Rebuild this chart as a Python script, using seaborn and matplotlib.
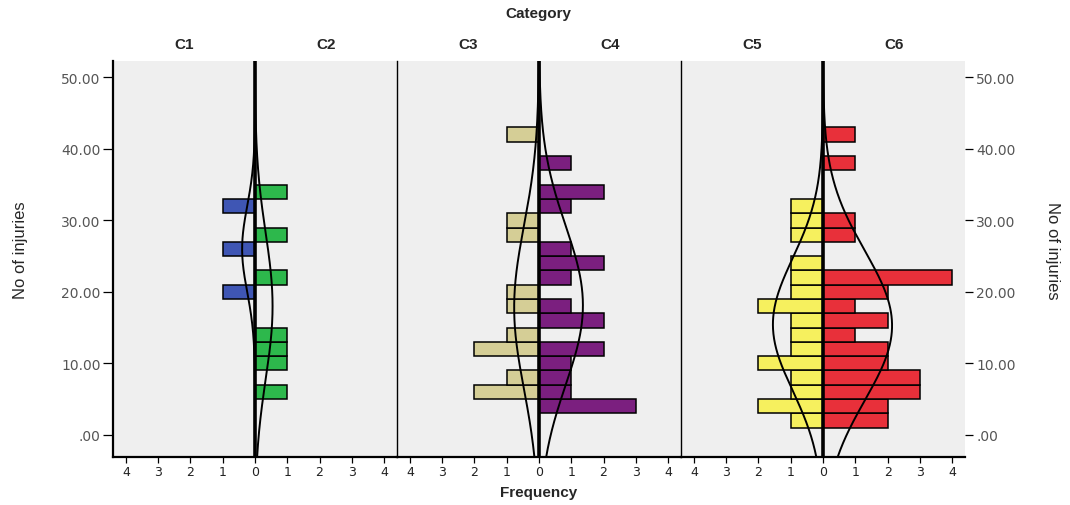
import numpy as np
import pandas as pd
import matplotlib
matplotlib.use("Agg")
import matplotlib.pyplot as plt
import seaborn as sns

# ---------------- data ----------------
bin_start = 1
bin_width = 2
n_bins = 21
categories = ["C1", "C2", "C3", "C4", "C5", "C6"]

# frequencies per bin: bins [1,3), [3,5), ... [41,43)
freq_c1 = [0, 0, 0, 0, 0, 0, 0, 0, 0, 1, 0, 0, 1, 0, 0, 1, 0, 0, 0, 0, 0]
freq_c2 = [0, 0, 1, 0, 1, 1, 1, 0, 0, 0, 1, 0, 0, 1, 0, 0, 1, 0, 0, 0, 0]
freq_c3 = [0, 0, 2, 1, 0, 2, 1, 0, 1, 1, 0, 0, 0, 1, 1, 0, 0, 0, 0, 0, 1]
freq_c4 = [0, 3, 1, 1, 1, 2, 0, 2, 1, 0, 1, 2, 1, 0, 0, 1, 2, 0, 1, 0, 0]
freq_c5 = [1, 2, 1, 1, 2, 1, 1, 1, 2, 1, 1, 1, 0, 1, 1, 1, 0, 0, 0, 0, 0]
freq_c6 = [2, 2, 3, 3, 2, 2, 1, 2, 1, 2, 4, 0, 0, 1, 1, 0, 0, 0, 1, 0, 1]

colors = ["#3F56B4", "#2DB84C", "#D5CE96", "#7B1F7F", "#F6F05E", "#E8303A"]

x_ticks = [-4, -3, -2, -1, 0, 1, 2, 3, 4]
y_ticks = [0, 10, 20, 30, 40, 50]
y_tick_labels = [".00", "10.00", "20.00", "30.00", "40.00", "50.00"]

freqs = [freq_c1, freq_c2, freq_c3, freq_c4, freq_c5, freq_c6]

# ---------------- plot ----------------
sns.set_theme(style="white")
plt.rcParams["font.family"] = ["Liberation Sans", "DejaVu Sans"]

fig, axes = plt.subplots(1, 3, figsize=(10.7, 5.06), dpi=100, sharey=True)
fig.subplots_adjust(left=0.1056, right=0.9019, bottom=0.0949, top=0.8775, wspace=0)

edges = bin_start + bin_width * np.arange(n_bins + 1)
centers = edges[:-1] + bin_width / 2
ylo, yhi = -3.1, 52.3
ygrid = np.linspace(ylo, yhi, 400)

for p, ax in enumerate(axes):
    ax.set_facecolor("#EFEFEF")
    for side in (0, 1):
        k = 2 * p + side
        f = np.array(freqs[k], dtype=float)
        sign = -1 if side == 0 else 1
        df = pd.DataFrame({"value": centers, "w": sign * f})
        sns.histplot(data=df, y="value", weights="w", bins=[float(e) for e in edges],
                     color=colors[k], edgecolor="black", linewidth=1.1, alpha=1, ax=ax)
        # normal curve fitted to the data
        n = f.sum()
        mu = np.sum(f * centers) / n
        sd = np.sqrt(np.sum(f * (centers - mu) ** 2) / (n - 1))
        dens = n * bin_width * np.exp(-0.5 * ((ygrid - mu) / sd) ** 2) / (sd * np.sqrt(2 * np.pi))
        ax.plot(sign * dens, ygrid, color="black", lw=1.4)
    ax.axvline(0, color="black", lw=2.6, zorder=5)
    ax.set_xlim(-4.4, 4.4)
    ax.set_ylim(ylo, yhi)
    ax.set_xlabel("")
    ax.set_ylabel("")
    ax.set_xticks(x_ticks)
    ax.set_xticklabels([str(abs(t)) for t in x_ticks], fontsize=9, color="#222222",
                       family=["DejaVu Sans"])
    ax.tick_params(axis="x", direction="out", length=4, width=0.9, color="black", pad=2, bottom=True)
    for s in ("top", "right"):
        ax.spines[s].set_visible(False)
    ax.spines["bottom"].set_color("black")
    ax.spines["bottom"].set_linewidth(1.6)
    ax.spines["left"].set_color("black")
    ax.spines["left"].set_linewidth(1.6 if p == 0 else 1.0)
    ax.text(-2.2, 1.043, categories[2 * p], transform=ax.get_xaxis_transform(),
            ha="center", va="center", fontsize=11, fontweight="bold")
    ax.text(2.2, 1.043, categories[2 * p + 1], transform=ax.get_xaxis_transform(),
            ha="center", va="center", fontsize=11, fontweight="bold")

axes[0].set_yticks(y_ticks)
axes[0].set_yticklabels(y_tick_labels, fontsize=10, color="#555555", family=["DejaVu Sans"])
axes[0].tick_params(axis="y", direction="out", length=7, width=0.9, color="black", left=True, pad=2)
for ax in axes[1:]:
    ax.tick_params(axis="y", left=False, labelleft=False)
axes[2].tick_params(axis="y", right=True, labelright=True, direction="out", length=6,
                    width=0.9, color="black", pad=2, labelsize=10, labelcolor="#555555",
                    labelfontfamily="DejaVu Sans")

fig.text(0.503, 0.972, "Category", ha="center", va="center", fontsize=11, fontweight="bold")
fig.text(0.503, 0.026, "Frequency", ha="center", va="center", fontsize=11, fontweight="bold")
fig.text(0.019, 0.505, "No of injuries", ha="center", va="center", rotation=90, fontsize=12,
         family=["Liberation Sans Narrow", "Liberation Sans", "DejaVu Sans"])
fig.text(0.984, 0.505, "No of injuries", ha="center", va="center", rotation=-90, fontsize=12,
         family=["Liberation Sans Narrow", "Liberation Sans", "DejaVu Sans"])

fig.savefig("out.png", dpi=100, facecolor="white")
